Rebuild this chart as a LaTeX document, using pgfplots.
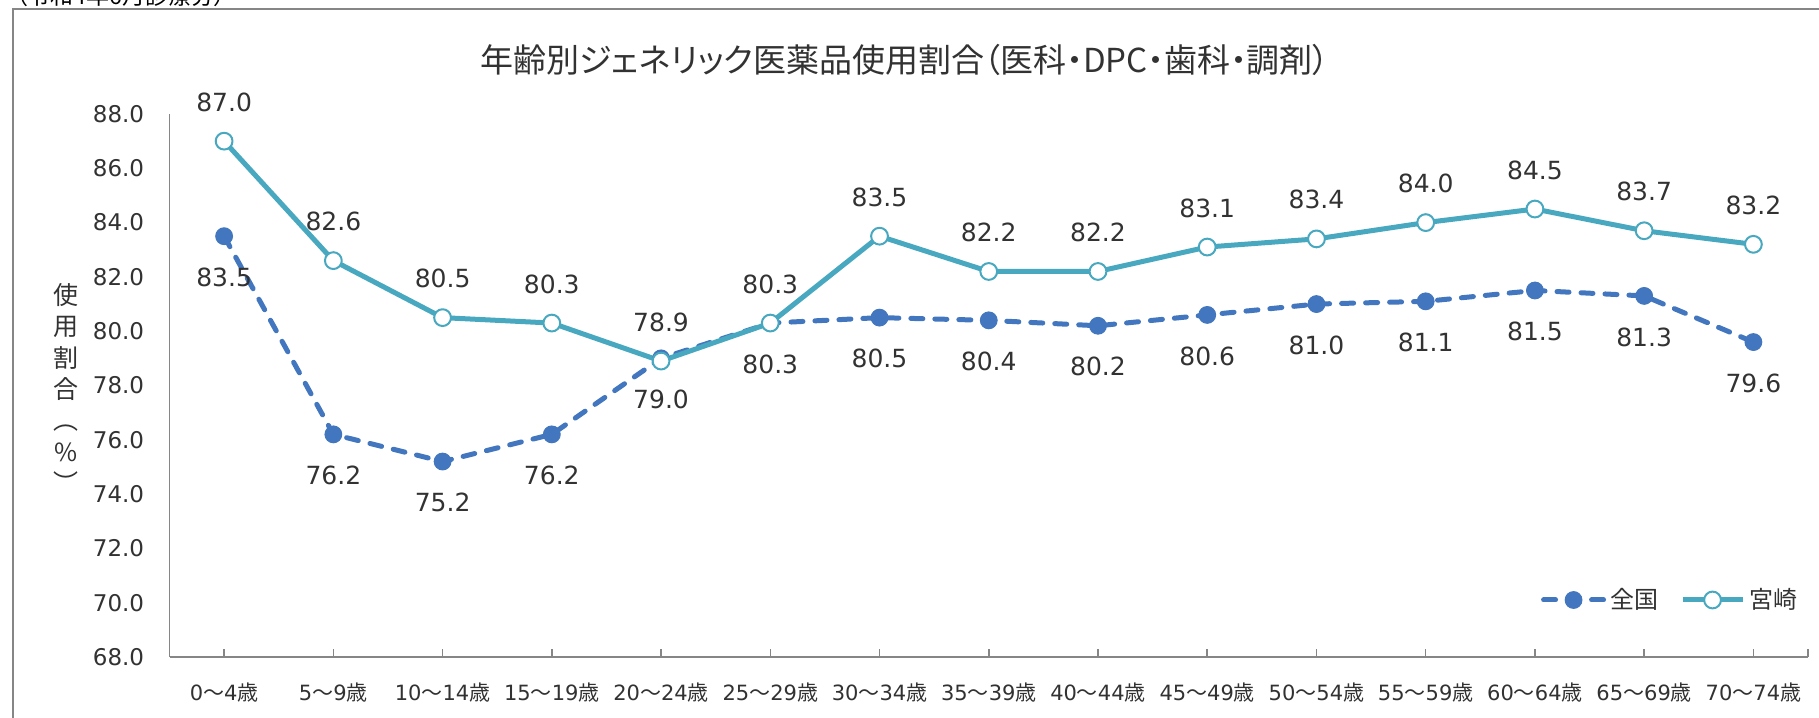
\documentclass[border=0pt]{standalone}
\usepackage{fontspec}
\setmainfont{DejaVu Sans}
\newfontfamily\cjk[RawFeature=+palt]{Noto Sans CJK JP}
\usepackage{pgfplots}
\pgfplotsset{compat=1.18}
\definecolor{zenkoku}{RGB}{66,118,190}
\definecolor{miyazaki}{RGB}{72,168,192}
\definecolor{axgray}{RGB}{134,134,134}
\definecolor{txt}{RGB}{50,50,50}
\newcommand{\ag}[2]{#1{\cjk ～}#2{\cjk 歳}}
\begin{document}
\begin{tikzpicture}
\useasboundingbox (0,0) rectangle (909.5pt,-358.5pt);
\clip (0,0) rectangle (909.5pt,-358.5pt);
\draw[axgray, line width=0.75pt] (6.5pt,-4.5pt) rectangle (1000pt,-1000pt);
\node[anchor=base west, inner sep=0pt, font=\cjk\fontsize{11.5}{12}\selectfont, text=black] at (8pt,-2.5pt) {（令和4年6月診療分）};
\node[font=\cjk\fontsize{16.5}{19}\selectfont, text=txt] at (452.5pt,-30pt) {年齢別ジェネリック医薬品使用割合（医科・DPC・歯科・調剤）};
\node[align=center, inner sep=0pt, font=\cjk\fontsize{12.5}{15.7}\selectfont, text=txt] at (33pt,-194pt) {使\\用\\割\\合\\︵\\\%\\︶};
\begin{axis}[
  at={(84.75pt,-328.5pt)}, anchor=south west,
  scale only axis, width=819.25pt, height=271.5pt,
  xmin=-0.5, xmax=14.5, ymin=68, ymax=88,
  axis lines*=left,
  axis line style={axgray, line width=0.75pt},
  xtick={0,...,14},
  xticklabels={\ag{0}{4},\ag{5}{9},\ag{10}{14},\ag{15}{19},\ag{20}{24},\ag{25}{29},\ag{30}{34},\ag{35}{39},\ag{40}{44},\ag{45}{49},\ag{50}{54},\ag{55}{59},\ag{60}{64},\ag{65}{69},\ag{70}{74}},
  extra x ticks={14.5}, extra x tick labels={},
  ytick={68,70,...,88},
  /pgf/number format/assume math mode=true,
  /pgf/number format/fixed, /pgf/number format/fixed zerofill, /pgf/number format/precision=1,
  y tick style={draw=none},
  x tick style={axgray, line width=0.75pt},
  tick align=inside,
  major tick length=4pt,
  yticklabel style={font=\fontsize{11.5}{12}\selectfont, text=txt, anchor=east, inner sep=0pt, xshift=-12.5pt},
  xticklabel style={font=\fontsize{10.5}{12}\selectfont, text=txt, anchor=center, inner sep=0pt, yshift=-18pt},
  legend columns=2,
  legend cell align=left,
  legend style={at={(0.996,0.105)}, anchor=east, draw=none, fill=none, inner sep=0pt,
    font=\cjk\fontsize{12}{14}\selectfont, text=txt,
    /tikz/every even column/.append style={column sep=9pt}},
  legend image code/.code={\draw[mark repeat=2,mark phase=2,#1] plot coordinates {(0pt,0pt) (15pt,0pt) (30pt,0pt)};},
  nodes near coords={\pgfmathprintnumber{\pgfplotspointmeta}},
  clip=false,
]
\addplot[zenkoku, line width=2.5pt, dash pattern=on 6pt off 6pt, line cap=round,
  mark=*, mark size=4.2pt, mark options={solid, fill=zenkoku, draw=zenkoku, line width=0.5pt},
  every node near coord/.append style={font=\fontsize{12.5}{14}\selectfont, text=txt, anchor=center, yshift=-20.5pt}]
coordinates {(0,83.5) (1,76.2) (2,75.2) (3,76.2) (4,79.0) (5,80.3) (6,80.5) (7,80.4) (8,80.2) (9,80.6) (10,81.0) (11,81.1) (12,81.5) (13,81.3) (14,79.6)};
\addlegendentry{全国}
\addplot[miyazaki, line width=2.5pt, line join=round,
  mark=*, mark size=4.2pt, mark options={solid, fill=white, draw=miyazaki, line width=1pt},
  every node near coord/.append style={font=\fontsize{12.5}{14}\selectfont, text=txt, anchor=center, yshift=19.5pt}]
coordinates {(0,87.0) (1,82.6) (2,80.5) (3,80.3) (4,78.9) (5,80.3) (6,83.5) (7,82.2) (8,82.2) (9,83.1) (10,83.4) (11,84.0) (12,84.5) (13,83.7) (14,83.2)};
\addlegendentry{宮崎}
\end{axis}
\end{tikzpicture}
\end{document}
